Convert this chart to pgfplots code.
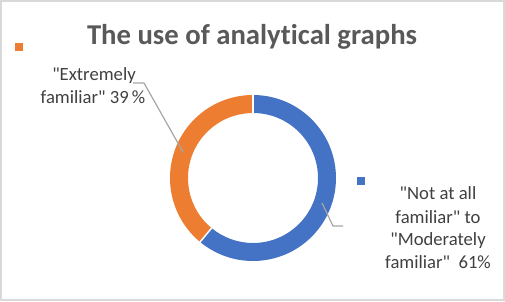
\documentclass[border=0pt]{standalone}
\usepackage{pgfplots}
\pgfplotsset{compat=1.18}
\usepackage{pgfplotstable}
\usepackage{fontspec}
\setmainfont{Carlito}[Ligatures={TeXOff,NoCommon}]
\definecolor{cblue}{HTML}{4472C4}
\definecolor{corange}{HTML}{ED7D31}
\definecolor{ctitle}{HTML}{595959}
\definecolor{ctext}{HTML}{404040}
\definecolor{cline}{HTML}{A6A6A6}
\definecolor{cborder}{HTML}{D9D9D9}
\pgfplotstableread{
label value
NotAtAll 61
Extremely 39
}\shares
\begin{document}
\begin{tikzpicture}
\pgfplotstablegetelem{0}{value}\of\shares \pgfmathsetmacro{\vBlue}{\pgfplotsretval}
\pgfplotstablegetelem{1}{value}\of\shares \pgfmathsetmacro{\vOrange}{\pgfplotsretval}
\pgfmathsetmacro{\aSplit}{90+3.6*\vOrange}
\pgfmathsetmacro{\aEnd}{\aSplit+3.6*\vBlue}
\begin{axis}[x=1pt,y=1pt,xmin=0,xmax=505,ymin=0,ymax=301,hide axis,scale only axis,clip=false]
% border
\draw[cborder, line width=2pt] (axis cs:1,1) rectangle (axis cs:504,300);
\coordinate (C) at (axis cs:253,123);
% slices
\fill[corange] (C) ++(90:83pt) arc[start angle=90, end angle=\aSplit, radius=83pt]
  -- ([shift={(\aSplit:65pt)}]C) arc[start angle=\aSplit, end angle=90, radius=65pt] -- cycle;
\fill[cblue] ([shift={(\aSplit:83pt)}]C) arc[start angle=\aSplit, end angle=\aEnd, radius=83pt]
  -- ([shift={(\aEnd:65pt)}]C) arc[start angle=\aEnd, end angle=\aSplit, radius=65pt] -- cycle;
\draw[white, line width=1.5pt] ([shift={(90:64pt)}]C) -- ([shift={(90:84pt)}]C);
\draw[white, line width=1.5pt] ([shift={(\aSplit:64pt)}]C) -- ([shift={(\aSplit:84pt)}]C);
% legend keys
\addplot[only marks, mark=square*, mark size=3.5pt, color=corange] coordinates {(18.5,254.5)};
\addplot[only marks, mark=square*, mark size=3.5pt, color=cblue] coordinates {(361,120)};
% title
\node[anchor=base, font=\fontsize{28.7}{34}\selectfont\bfseries, text=ctitle, inner sep=0pt] at (axis cs:252,257) {The use of analytical graphs};
% leader lines
\draw[cline, line width=1.2pt] (axis cs:133,218) -- (axis cs:144,218) -- (axis cs:183,149);
\draw[cline, line width=1.2pt] (axis cs:322,98) -- (axis cs:333,75) -- (axis cs:343,75);
% labels
\begin{scope}[every node/.style={anchor=base, inner sep=0pt, text=ctext, font=\fontsize{18.67}{23}\selectfont}]
\node at (axis cs:94,221) {"Extremely};
\node at (axis cs:93,198) {familiar"~39\,\%};
\node at (axis cs:438,102) {"Not at all};
\node at (axis cs:438,78) {familiar" to};
\node at (axis cs:438,56) {"Moderately};
\node at (axis cs:438,33) {familiar"~~61\%};
\end{scope}
\end{axis}
\end{tikzpicture}
\end{document}
